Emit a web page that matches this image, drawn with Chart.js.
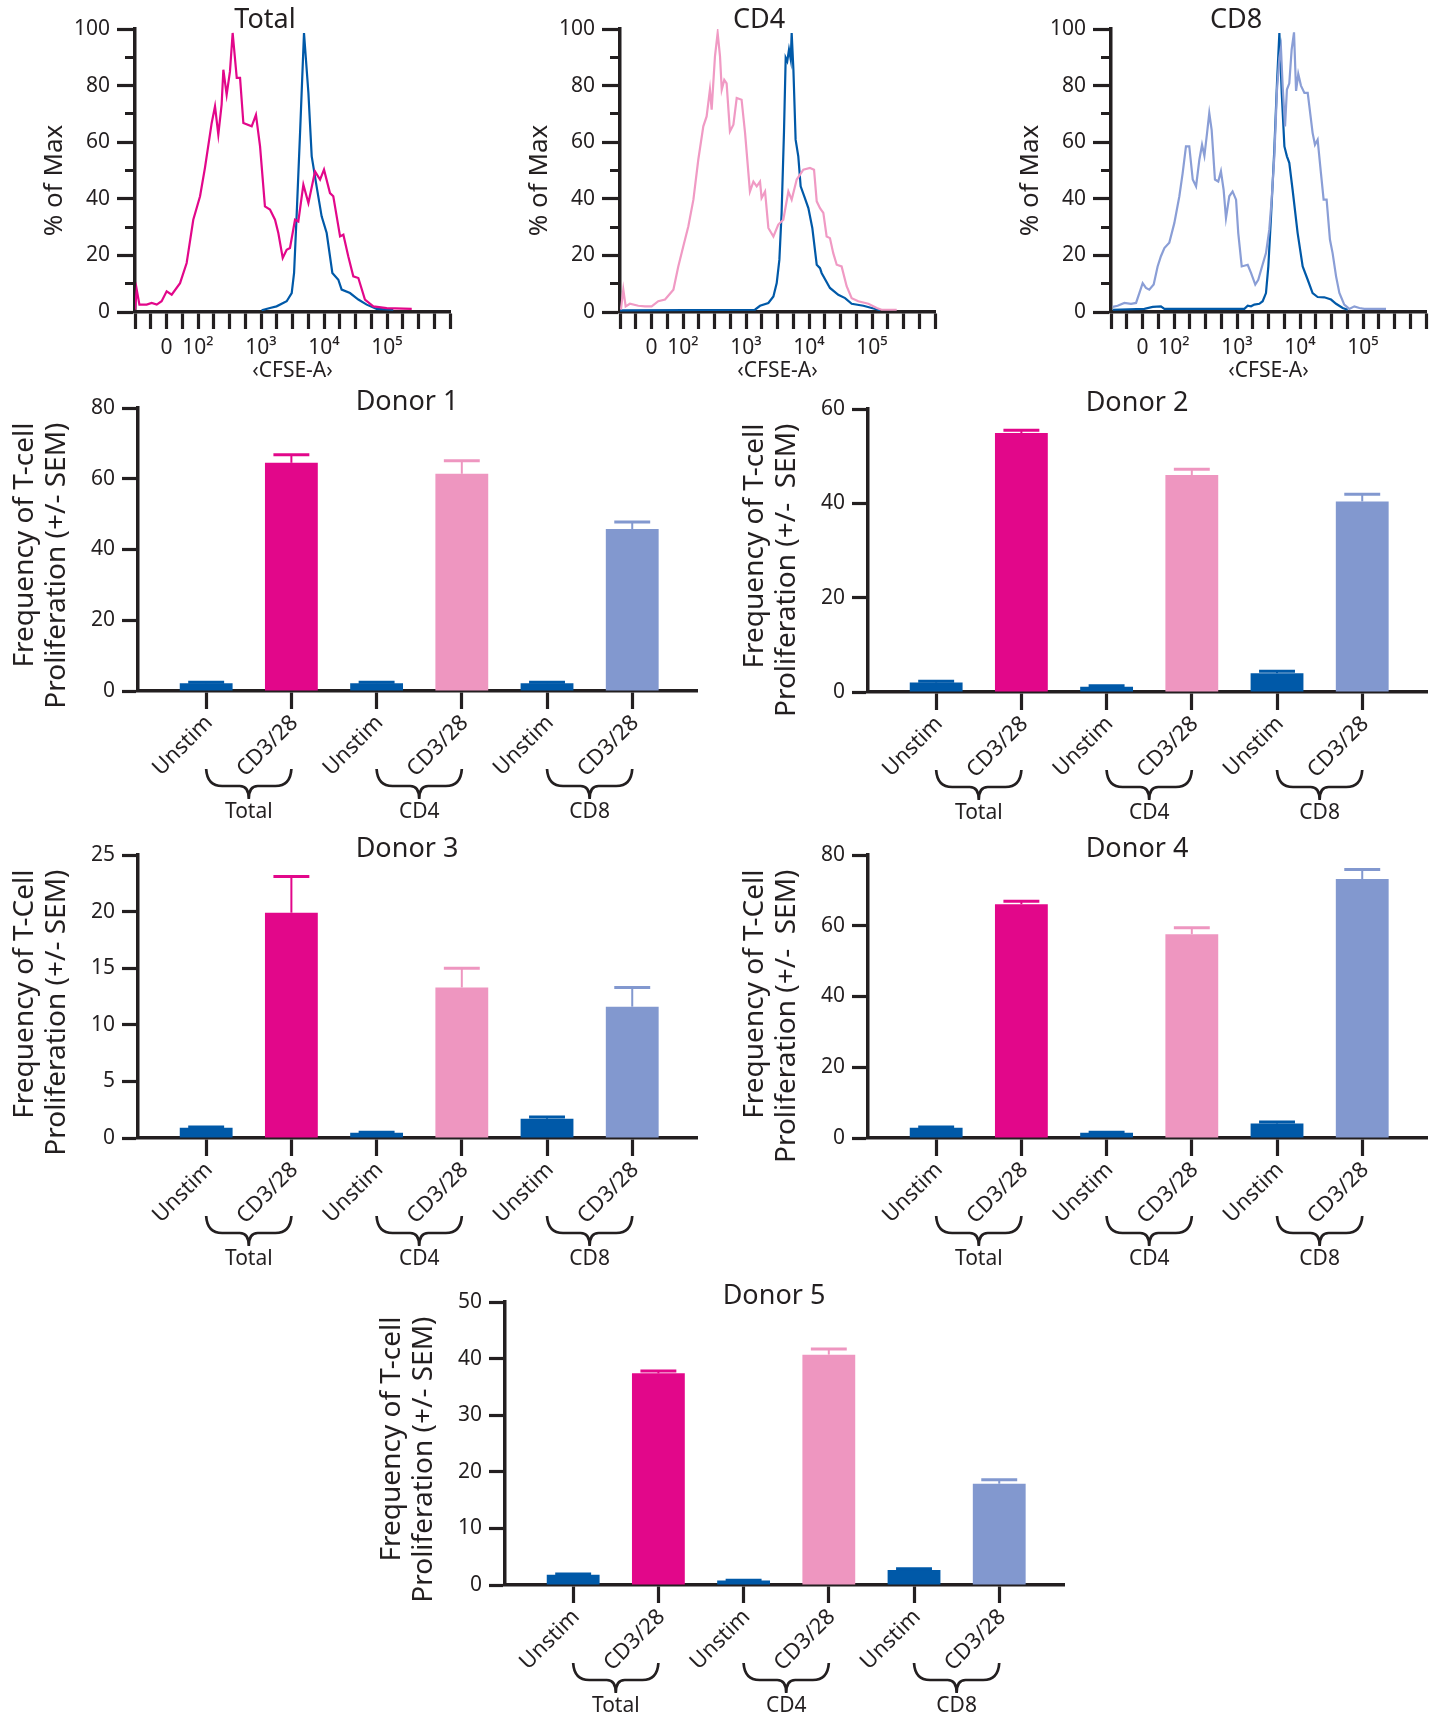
<!DOCTYPE html>
<html lang="en">
<head>
    <meta charset="UTF-8">
    <title>T-cell proliferation</title>
    <script src="https://cdn.jsdelivr.net/npm/chart.js@4/dist/chart.umd.min.js"></script>
    <style>
        body { margin: 0; width: 1446px; height: 1733px; background: #fff; position: relative; overflow: hidden; }
        canvas { position: absolute; }
    </style>
</head>
<body>
    <canvas id="histTotal" width="470" height="390" style="left:0;top:0"></canvas>
    <canvas id="histCD4" width="470" height="390" style="left:485px;top:0"></canvas>
    <canvas id="histCD8" width="470" height="390" style="left:976px;top:0"></canvas>
    <canvas id="donor1" width="720" height="460" style="left:0;top:380px"></canvas>
    <canvas id="donor2" width="716" height="460" style="left:730px;top:381px"></canvas>
    <canvas id="donor3" width="720" height="460" style="left:0;top:827px"></canvas>
    <canvas id="donor4" width="716" height="460" style="left:730px;top:827px"></canvas>
    <canvas id="donor5" width="720" height="460" style="left:367px;top:1274px"></canvas>

    <script>
        // histogram traces: [x in axis tick units 0..20, % of max]
        const totalStim = [[0,0.8],[0.11,7.9],[0.28,2.6],[0.74,2.6],[1.06,3.2],[1.38,2.6],[1.69,3.8],[2.01,7.3],[2.33,6.1],[2.86,10.2],[3.28,17.3],[3.70,32.6],[4.13,40.9],[4.44,50.9],[4.87,66.8],[5.08,72.7],[5.29,62.7],[5.50,73.3],[5.61,85.6],[5.82,76.8],[6.03,85.0],[6.20,98.6],[6.46,82.7],[6.67,82.7],[6.88,66.8],[7.41,65.6],[7.68,69.7],[7.94,58.5],[8.25,37.3],[8.57,36.2],[8.89,32.6],[9.10,27.9],[9.38,19.1],[9.63,22.0],[9.84,22.6],[10.16,32.6],[10.37,32.0],[10.69,45.0],[11.01,38.5],[11.43,49.7],[11.75,46.8],[12.0,50.3],[12.38,42.0],[12.59,40.9],[13.02,26.7],[13.23,27.3],[13.54,19.7],[13.86,12.6],[14.18,12.0],[14.60,4.4],[15.13,2.0],[15.98,1.4],[17.57,1.1]];
        const totalUnstim = [[8.04,0.6],[8.57,1.4],[8.99,2.0],[9.63,3.8],[9.95,6.7],[10.10,13.8],[10.26,33.8],[10.48,63.3],[10.73,98.6],[11.01,77.4],[11.22,55.0],[11.53,44.4],[11.85,33.8],[12.17,27.9],[12.53,13.8],[12.91,11.4],[13.12,7.9],[13.65,6.7],[14.18,4.4],[14.71,2.6],[15.34,1.1],[16.40,0.8]];
        const cd4Stim = [[0.06,0.8],[0.21,7.9],[0.36,2.0],[0.63,2.9],[1.16,2.2],[1.59,2.0],[2.01,2.0],[2.43,3.8],[2.86,4.4],[3.39,7.9],[3.70,16.1],[4.02,23.2],[4.34,30.3],[4.66,39.7],[4.97,53.8],[5.29,65.6],[5.50,69.1],[5.71,78.6],[5.82,71.5],[5.93,81.5],[6.03,90.3],[6.20,98.6],[6.35,90.3],[6.46,78.6],[6.62,82.0],[6.77,80.8],[6.98,63.8],[7.20,66.2],[7.41,75.6],[7.72,75.0],[7.94,63.3],[8.25,42.6],[8.47,46.1],[8.68,44.4],[8.89,46.1],[8.99,40.3],[9.21,42.6],[9.42,29.7],[9.74,26.7],[10.05,30.9],[10.37,32.6],[10.69,42.6],[10.90,39.7],[11.22,46.8],[11.64,50.3],[12.06,50.9],[12.32,50.3],[12.49,39.1],[12.70,36.7],[12.91,35.0],[13.12,26.7],[13.33,26.1],[13.54,20.8],[13.76,16.7],[14.07,16.1],[14.39,9.1],[14.71,4.9],[15.13,3.8],[15.77,2.9],[16.30,1.4],[16.61,0.8],[17.57,0.8]];
        const cd4Unstim = [[0,0.6],[8.57,0.8],[8.89,2.2],[9.42,3.2],[9.74,5.5],[9.95,10.2],[10.12,18.5],[10.26,35.0],[10.41,63.3],[10.52,89.8],[10.62,88.6],[10.73,92.7],[10.84,89.2],[10.90,98.6],[11.01,85.6],[11.15,60.9],[11.32,55.0],[11.47,44.4],[11.70,40.9],[11.96,36.7],[12.21,29.7],[12.49,16.7],[12.70,15.5],[12.80,13.8],[13.33,8.5],[13.86,6.1],[14.29,4.9],[14.71,2.9],[15.45,2.2],[15.98,1.4],[16.51,0.6]];
        const cd8Stim = [[0.11,1.8],[0.42,2.2],[0.85,3.2],[1.27,2.9],[1.59,3.2],[1.80,6.7],[2.01,10.2],[2.22,8.5],[2.43,7.9],[2.71,9.7],[2.96,16.1],[3.17,19.7],[3.39,22.6],[3.70,24.5],[4.02,31.4],[4.34,40.9],[4.55,49.1],[4.76,58.5],[4.97,58.5],[5.19,46.8],[5.40,44.4],[5.61,53.8],[5.78,59.1],[5.93,55.2],[6.10,63.3],[6.24,70.3],[6.39,64.4],[6.60,46.8],[6.81,46.1],[6.98,49.7],[7.15,43.2],[7.30,33.2],[7.51,40.9],[7.72,42.6],[7.94,39.7],[8.08,27.9],[8.30,16.1],[8.68,16.7],[8.89,13.8],[9.16,9.7],[9.35,11.4],[9.59,16.1],[9.84,20.8],[10.05,29.1],[10.20,39.7],[10.37,55.0],[10.54,78.6],[10.69,89.8],[10.79,93.3],[10.90,79.7],[11.05,65.6],[11.17,78.6],[11.32,80.8],[11.47,92.7],[11.62,98.8],[11.75,78.1],[11.89,84.1],[12.06,80.0],[12.28,77.4],[12.49,77.4],[12.80,63.3],[12.95,59.1],[13.12,60.9],[13.33,49.1],[13.50,39.7],[13.69,39.7],[13.90,25.6],[14.07,20.8],[14.29,12.6],[14.50,6.7],[14.81,2.6],[15.13,1.1],[15.45,2.0],[15.77,1.4],[16.08,1.1],[17.46,1.1]];
        const cd8Unstim = [[0.11,0.8],[2.12,1.1],[2.65,1.8],[3.17,2.0],[3.39,1.1],[8.47,1.1],[8.68,2.2],[8.89,2.0],[9.10,2.6],[9.42,2.9],[9.63,3.8],[9.84,6.7],[9.99,16.1],[10.16,33.8],[10.37,57.4],[10.54,80.9],[10.69,98.6],[10.84,77.4],[11.01,58.5],[11.17,55.0],[11.32,52.7],[11.53,43.2],[11.85,27.9],[12.17,16.1],[12.49,11.4],[12.80,6.7],[13.12,5.3],[13.54,5.2],[13.97,4.4],[14.29,2.9],[14.71,1.4],[15.03,0.8]];

        const histXTicks = [0,1,2,3,4,5,6,7,8,9,10,11,12,13,14,15,16,17,18,19,20];
        const histXLabels = {2: '0', 4: '10²', 8: '10³', 12: '10⁴', 16: '10⁵'};
        const histYTicks = [0,5,10,15,20,25,30,35,40,45,50,55,60,65,70,75,80,85,90,95,100];

        // bar panels
        const barLabels = ['Unstim', 'CD3/28', 'Unstim', 'CD3/28', 'Unstim', 'CD3/28'];
        const groupLabels = ['Total', 'CD4', 'CD8'];
        const donor1 = [2.2, 64.5, 2.2, 61.4, 2.2, 45.8];
        const donor1Err = [0.3, 2.3, 0.3, 3.7, 0.3, 2.0];
        const donor2 = [2.0, 54.9, 1.1, 46.0, 4.0, 40.4];
        const donor2Err = [0.3, 0.6, 0.2, 1.2, 0.4, 1.5];
        const donor3 = [0.9, 19.9, 0.47, 13.3, 1.7, 11.6];
        const donor3Err = [0.07, 3.2, 0.03, 1.7, 0.15, 1.7];
        const donor4 = [2.9, 66.1, 1.5, 57.6, 4.1, 73.2];
        const donor4Err = [0.2, 0.8, 0.1, 1.8, 0.4, 2.7];
        const donor5 = [1.8, 37.4, 0.8, 40.7, 2.65, 17.9];
        const donor5Err = [0.15, 0.4, 0.05, 1.0, 0.2, 0.7];

        const ink = '#231F20';
        const navy = '#0059A8';
        const magenta = '#E2078A';
        const pink = '#EE96C0';
        const periwinkle = '#8298CF';
        const barColors = [navy, magenta, navy, pink, navy, periwinkle];
        const family = "'Noto Sans', 'Open Sans', sans-serif";

        Chart.defaults.font.family = family;
        Chart.defaults.color = ink;

        const panelTitle = (text, dx, dy, size) => ({
            id: 'panelTitle',
            afterDraw(chart) {
                const {ctx, chartArea} = chart;
                ctx.save();
                ctx.font = size + 'px ' + family;
                ctx.fillStyle = ink;
                ctx.textAlign = 'center';
                ctx.textBaseline = 'middle';
                ctx.fillText(text, chartArea.left + dx, chartArea.top + dy);
                ctx.restore();
            }
        });

        // histogram y title sits a little below the axis middle
        const histYTitle = {
            id: 'histYTitle',
            afterDraw(chart) {
                const {ctx, chartArea} = chart;
                ctx.save();
                ctx.font = '26px ' + family;
                ctx.fillStyle = ink;
                ctx.textAlign = 'center';
                ctx.textBaseline = 'middle';
                ctx.translate(chartArea.left - 80, (chartArea.top + chartArea.bottom) / 2 + 10);
                ctx.rotate(-Math.PI / 2);
                ctx.fillText('% of Max', 0, 0);
                ctx.restore();
            }
        };

        const histogram = (id, title, titleDx, traces) => new Chart(id, {
            type: 'line',
            data: {
                datasets: traces.map(t => ({
                    data: t.points.map(([x, y]) => ({x, y})),
                    borderColor: t.color,
                    borderWidth: 2.2,
                    pointRadius: 0,
                    tension: 0,
                    fill: false
                }))
            },
            options: {
                responsive: false,
                animation: false,
                devicePixelRatio: 1,
                layout: { padding: { top: 29, right: 20, left: 0, bottom: 0 } },
                plugins: { legend: { display: false }, tooltip: { enabled: false } },
                scales: {
                    x: {
                        type: 'linear', min: 0, max: 20,
                        afterBuildTicks: s => { s.ticks = histXTicks.map(v => ({value: v})); },
                        afterFit: s => { s.height = 78; },
                        grid: { drawOnChartArea: false, tickLength: 17, tickWidth: 3.2, tickColor: ink },
                        border: { width: 3.5, color: ink },
                        ticks: { autoSkip: false, maxRotation: 0, padding: 6, color: ink, font: { size: 21 },
                                 callback: v => histXLabels[v] || '' },
                        title: { display: true, text: '‹CFSE-A›', color: ink, font: { size: 21 },
                                 padding: { top: 0, bottom: 6 } }
                    },
                    y: {
                        min: 0, max: 100,
                        afterBuildTicks: s => { s.ticks = histYTicks.map(v => ({value: v})); },
                        afterFit: s => { s.width = 135; },
                        grid: { drawOnChartArea: false, tickLength: 18, tickWidth: 3.2, tickColor: ink,
                                tickBorderDash: c => (c.tick && c.tick.value % 20) ? [0, 8, 14, 40] : [] },
                        border: { width: 3.5, color: ink },
                        ticks: { padding: 7, color: ink, font: { size: 21 },
                                 callback: v => v % 20 ? '' : v }
                    }
                }
            },
            plugins: [panelTitle(title, titleDx, -9, 27), histYTitle]
        });

        histogram('histTotal', 'Total', 130, [
            { points: totalStim, color: magenta },
            { points: totalUnstim, color: navy }
        ]);
        histogram('histCD4', 'CD4', 139, [
            { points: cd4Stim, color: '#F09AC4' },
            { points: cd4Unstim, color: navy }
        ]);
        histogram('histCD8', 'CD8', 125, [
            { points: cd8Stim, color: '#8A9ED6' },
            { points: cd8Unstim, color: navy }
        ]);

        // error bars + braces under each pair of bars
        const barDecor = {
            id: 'barDecor',
            afterDatasetsDraw(chart) {
                const {ctx, scales: {x, y}, chartArea} = chart;
                const ds = chart.data.datasets[0];
                ctx.save();
                chart.getDatasetMeta(0).data.forEach((bar, i) => {
                    const {x: bx, y: by, width} = bar.getProps(['x', 'y', 'width'], true);
                    const top = y.getPixelForValue(ds.data[i].y + ds.errors[i]);
                    const half = width * 0.34;
                    ctx.strokeStyle = ds.backgroundColor[i];
                    ctx.lineWidth = 2;
                    ctx.beginPath(); ctx.moveTo(bx, by); ctx.lineTo(bx, top); ctx.stroke();
                    ctx.lineWidth = 3;
                    ctx.beginPath(); ctx.moveTo(bx - half, top); ctx.lineTo(bx + half, top); ctx.stroke();
                });
                ctx.strokeStyle = ink;
                ctx.fillStyle = ink;
                ctx.lineWidth = 2.7;
                ctx.font = '21px ' + family;
                ctx.textAlign = 'center';
                ctx.textBaseline = 'middle';
                groupLabels.forEach((g, k) => {
                    const x0 = x.getPixelForValue(2 * k), x1 = x.getPixelForValue(2 * k + 1);
                    const mid = (x0 + x1) / 2;
                    const y0 = chartArea.bottom + 78, yb = y0 + 17, yt = y0 + 30;
                    ctx.beginPath();
                    ctx.moveTo(x0, y0);
                    ctx.quadraticCurveTo(x0 + 1, yb, x0 + 16, yb);
                    ctx.lineTo(mid - 9, yb);
                    ctx.quadraticCurveTo(mid, yb, mid, yt);
                    ctx.moveTo(x1, y0);
                    ctx.quadraticCurveTo(x1 - 1, yb, x1 - 16, yb);
                    ctx.lineTo(mid + 9, yb);
                    ctx.quadraticCurveTo(mid, yb, mid, yt);
                    ctx.stroke();
                    ctx.fillText(g, mid, chartArea.bottom + 121);
                });
                ctx.restore();
            }
        };

        const donorChart = (id, title, values, errors, yMax, yStep, yTitle) => {
            const canvas = document.getElementById(id);
            const yTicks = [];
            for (let v = 0; v <= yMax; v += yStep) yTicks.push(v);
            return new Chart(canvas, {
                type: 'bar',
                data: {
                    datasets: [{
                        data: values.map((v, i) => ({x: i, y: v})),
                        errors: errors,
                        backgroundColor: barColors,
                        borderWidth: 0,
                        barPercentage: 0.62,
                        categoryPercentage: 1
                    }]
                },
                options: {
                    responsive: false,
                    animation: false,
                    devicePixelRatio: 1,
                    layout: { padding: { top: 28, right: canvas.width - 697, left: 0, bottom: 0 } },
                    plugins: { legend: { display: false }, tooltip: { enabled: false } },
                    scales: {
                        x: {
                            type: 'linear', min: -0.8, max: 5.76, offset: false,
                            afterBuildTicks: s => { s.ticks = barLabels.map((l, i) => ({value: i})); },
                            afterFit: s => { s.height = 149; },
                            grid: { drawOnChartArea: false, offset: false, tickLength: 18, tickWidth: 3.2, tickColor: ink },
                            border: { width: 3.5, color: ink },
                            ticks: { autoSkip: false, minRotation: 45, maxRotation: 45, padding: 1, labelOffset: 3,
                                     color: ink, font: { size: 22 }, callback: v => barLabels[v] }
                        },
                        y: {
                            min: 0, max: yMax,
                            afterBuildTicks: s => { s.ticks = yTicks.map(v => ({value: v})); },
                            afterFit: s => { s.width = 138; },
                            grid: { drawOnChartArea: false, tickLength: 16, tickWidth: 3.2, tickColor: ink },
                            border: { width: 3.5, color: ink },
                            ticks: { padding: 7, color: ink, font: { size: 21 } },
                            title: { display: true, text: yTitle.map(t => t + '  '), align: 'end', color: ink,
                                     font: { size: 28, lineHeight: 1.15 }, padding: { top: 9, bottom: 0 } }
                        }
                    }
                },
                plugins: [barDecor, panelTitle(title, 269, -6, 27)]
            });
        };

        donorChart('donor1', 'Donor 1', donor1, donor1Err, 80, 20, ['Frequency of T-cell', 'Proliferation (+/- SEM)']);
        donorChart('donor2', 'Donor 2', donor2, donor2Err, 60, 20, ['Frequency of T-cell', 'Proliferation (+/-  SEM)']);
        donorChart('donor3', 'Donor 3', donor3, donor3Err, 25, 5, ['Frequency of T-Cell', 'Proliferation (+/- SEM)']);
        donorChart('donor4', 'Donor 4', donor4, donor4Err, 80, 20, ['Frequency of T-Cell', 'Proliferation (+/-  SEM)']);
        donorChart('donor5', 'Donor 5', donor5, donor5Err, 50, 10, ['Frequency of T-cell', 'Proliferation (+/- SEM)']);
    </script>
</body>
</html>
